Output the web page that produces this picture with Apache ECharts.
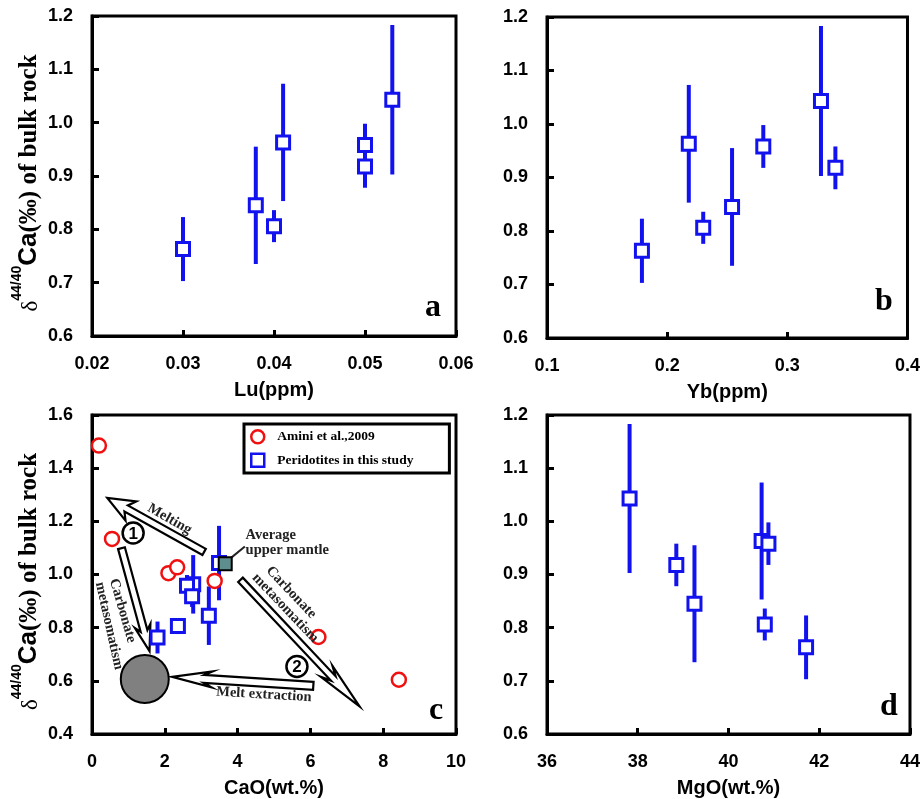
<!DOCTYPE html>
<html>
<head>
<meta charset="utf-8">
<script src="https://cdn.jsdelivr.net/npm/echarts@6/dist/echarts.min.js"></script>
<style>html,body{margin:0;padding:0;background:#fff}#c{width:923px;height:799px}</style>
</head>
<body>
<div id="c"></div>
<script>
// ---- data ----
const d44Ca    = [0.763, 0.845, 0.806, 0.963, 0.958, 0.918, 1.043];
const d44CaErr = [0.06, 0.11, 0.03, 0.11, 0.04, 0.04, 0.14];
const Lu  = [0.030, 0.038, 0.040, 0.041, 0.050, 0.050, 0.053];
const Yb  = [0.179, 0.254, 0.230, 0.218, 0.280, 0.340, 0.328];
const CaO = [1.80, 3.21, 2.36, 2.78, 2.61, 2.75, 3.49];
const MgO = [41.71, 39.25, 40.80, 40.73, 40.88, 38.85, 37.82];

const aminiCaO   = [0.19, 0.55, 2.10, 2.34, 3.37, 6.22, 8.43];
const aminiD44Ca = [1.485, 1.134, 1.005, 1.027, 0.976, 0.765, 0.604];

const avgMantleCaO = [3.66];
const avgMantleD44Ca = [1.040];

const meltResidueCaO = [1.45];
const meltResidueD44Ca = [0.607];

const leaderCaO = [3.76, 4.20];
const leaderD44Ca = [1.056, 1.105];

const arrowX1 = [3.08, 0.81, 4.08, 6.08];
const arrowY1 = [1.085, 1.099, 0.980, 0.581];
const arrowX2 = [0.42, 1.58, 7.35, 2.20];
const arrowY2 = [1.288, 0.712, 0.504, 0.615];

const annoText  = ['Melting', 'Average', 'upper mantle', 'Carbonate', 'metasomatism', 'Carbonate', 'metasomatism', 'Melt extraction'];
const annoX     = [2.13, 4.22, 4.22, 5.47, 5.31, 0.84, 0.47, 4.72];
const annoY     = [1.208, 1.149, 1.093, 0.933, 0.874, 0.864, 0.807, 0.548];
const annoAngle = [-29.5, 0, 0, -46.5, -46.5, -74, -77.5, -3.4];
const annoAlign = ['center', 'left', 'left', 'center', 'center', 'center', 'center', 'center'];

const stepLabels = ['1', '2'];
const stepX = [1.13, 5.63];
const stepY = [1.156, 0.654];

const panelLetters = ['a', 'b', 'c', 'd'];

// ---- styles ----
const BLUE = '#1212ee';
const arrowHeadLen = [27, 26, 48, 40];
const arrowHeadHalf = [11, 8, 8, 8];
const arrowShaftHalf = [3.5, 3.5, 3.2, 4];

const tickFont = {fontFamily: '"Liberation Sans", Arial, sans-serif', fontWeight: 'bold', fontSize: 18, color: '#000'};
const nameFont = {fontFamily: '"Liberation Sans", Arial, sans-serif', fontWeight: 'bold', fontSize: 20, color: '#000'};
const serif = '"Liberation Serif", "Times New Roman", serif';

const yName = '{d|δ}{s|44/40}{c|Ca}{t|(‰) of bulk rock}';
const yRich = {
  d: {fontFamily: serif, fontSize: 23, fontWeight: 'normal', lineHeight: 32, verticalAlign: 'bottom'},
  s: {fontFamily: '"Liberation Sans", Arial, sans-serif', fontSize: 14, fontWeight: 'bold', lineHeight: 32, verticalAlign: 'top'},
  c: {fontFamily: '"Liberation Sans", Arial, sans-serif', fontSize: 26, fontWeight: 'bold', lineHeight: 32, verticalAlign: 'bottom'},
  t: {fontFamily: serif, fontSize: 25, fontWeight: 'bold', lineHeight: 32, verticalAlign: 'bottom'}
};

const grids = [
  {left: 92, top: 16, width: 364, height: 320},
  {left: 547, top: 17, width: 364, height: 321},
  {left: 92, top: 415, width: 364, height: 320},
  {left: 547, top: 415, width: 365, height: 319}
].map(g => Object.assign({show: true, borderColor: '#000', borderWidth: 3, backgroundColor: '#fff'}, g));

function xAx(i, min, max, interval, name, dec) {
  return {
    type: 'value', gridIndex: i, min, max, interval,
    name, nameLocation: 'middle', nameGap: 44, nameTextStyle: nameFont,
    axisLine: {show: true, lineStyle: {color: '#000', width: 3}},
    axisTick: {show: true, inside: true, length: 6, lineStyle: {color: '#000', width: 3}},
    axisLabel: Object.assign({margin: 19, formatter: v => v.toFixed(dec)}, tickFont),
    splitLine: {show: false}
  };
}
function yAx(i, min, max, interval, showName) {
  return {
    type: 'value', gridIndex: i, min, max, interval,
    name: showName ? yName : '', nameLocation: 'middle', nameRotate: 90, nameGap: 50,
    nameTextStyle: {rich: yRich, color: '#000', padding: [0, 14, 0, 0]},
    axisLine: {show: true, lineStyle: {color: '#000', width: 3}},
    axisTick: {show: true, inside: true, length: 7, lineStyle: {color: '#000', width: 3}},
    axisLabel: Object.assign({margin: 19, formatter: v => v.toFixed(1)}, tickFont),
    splitLine: {show: false}
  };
}

function errSeries(xs, gi) {
  return {
    type: 'custom', xAxisIndex: gi, yAxisIndex: gi, z: 2, silent: true,
    data: xs.map((x, k) => [x, d44Ca[k], d44CaErr[k]]),
    encode: {x: 0, y: 1},
    renderItem: (params, api) => {
      const x = api.value(0), y = api.value(1), e = api.value(2);
      const p1 = api.coord([x, y - e]), p2 = api.coord([x, y + e]);
      return {type: 'line', shape: {x1: p1[0], y1: p1[1], x2: p2[0], y2: p2[1]},
        style: {stroke: BLUE, lineWidth: 4}};
    }
  };
}
function sqSeries(xs, gi, name) {
  return {
    type: 'scatter', name, xAxisIndex: gi, yAxisIndex: gi, z: 4,
    symbol: 'rect', symbolSize: 13,
    itemStyle: {color: '#fff', borderColor: BLUE, borderWidth: 3, opacity: 1},
    data: xs.map((x, k) => [x, d44Ca[k]])
  };
}

const arrowSeries = {
  type: 'custom', xAxisIndex: 2, yAxisIndex: 2, z: 3, silent: true,
  data: arrowX1.map((x, k) => [x, arrowY1[k], arrowX2[k], arrowY2[k], k]),
  encode: {x: [0, 2], y: [1, 3]},
  renderItem: (params, api) => {
    const k = api.value(4);
    const T = api.coord([api.value(0), api.value(1)]);
    const H = api.coord([api.value(2), api.value(3)]);
    const dx = H[0] - T[0], dy = H[1] - T[1];
    const L = Math.sqrt(dx * dx + dy * dy);
    const ux = dx / L, uy = dy / L, nx = -uy, ny = ux;
    const hl = arrowHeadLen[k], hw = arrowHeadHalf[k], sw = arrowShaftHalf[k];
    const B = [H[0] - ux * hl, H[1] - uy * hl];
    const N = [H[0] - ux * hl * 0.8, H[1] - uy * hl * 0.8];
    const pts = [
      [T[0] + nx * sw, T[1] + ny * sw],
      [N[0] + nx * sw, N[1] + ny * sw],
      [B[0] + nx * hw, B[1] + ny * hw],
      [H[0], H[1]],
      [B[0] - nx * hw, B[1] - ny * hw],
      [N[0] - nx * sw, N[1] - ny * sw],
      [T[0] - nx * sw, T[1] - ny * sw]
    ];
    return {type: 'polygon', shape: {points: pts}, style: {fill: '#fff', stroke: '#000', lineWidth: 2.2, lineJoin: 'miter'}};
  }
};

const annoSeries = {
  type: 'custom', xAxisIndex: 2, yAxisIndex: 2, z: 6, silent: true,
  data: annoX.map((x, k) => [x, annoY[k], k]),
  encode: {x: 0, y: 1},
  renderItem: (params, api) => {
    const k = api.value(2);
    const p = api.coord([api.value(0), api.value(1)]);
    return {type: 'text', x: p[0], y: p[1], rotation: annoAngle[k] * Math.PI / 180,
      style: {text: annoText[k], font: 'bold 14.5px ' + serif, fill: '#222',
        align: annoAlign[k], verticalAlign: 'middle'}};
  }
};

const stepSeries = {
  type: 'custom', xAxisIndex: 2, yAxisIndex: 2, z: 6, silent: true,
  data: stepX.map((x, k) => [x, stepY[k], k]),
  encode: {x: 0, y: 1},
  renderItem: (params, api) => {
    const k = api.value(2);
    const p = api.coord([api.value(0), api.value(1)]);
    return {type: 'group', children: [
      {type: 'circle', shape: {cx: p[0], cy: p[1], r: 10.5}, style: {fill: '#fff', stroke: '#000', lineWidth: 2.5}},
      {type: 'text', x: p[0], y: p[1] + 1, style: {text: stepLabels[k], font: 'bold 17px "Liberation Sans", Arial, sans-serif',
        fill: '#000', align: 'center', verticalAlign: 'middle'}}
    ]};
  }
};

const letterPos = [[433, 308], [884, 302], [436, 711], [889, 707]];

const option = {
  animation: false,
  backgroundColor: '#fff',
  grid: grids,
  xAxis: [
    xAx(0, 0.02, 0.06, 0.01, 'Lu(ppm)', 2),
    xAx(1, 0.1, 0.4, 0.1, 'Yb(ppm)', 1),
    xAx(2, 0, 10, 2, 'CaO(wt.%)', 0),
    xAx(3, 36, 44, 2, 'MgO(wt.%)', 0)
  ],
  yAxis: [
    yAx(0, 0.6, 1.2, 0.1, true),
    yAx(1, 0.6, 1.2, 0.1, false),
    yAx(2, 0.4, 1.6, 0.2, true),
    yAx(3, 0.6, 1.2, 0.1, false)
  ],
  legend: {
    data: [
      {name: 'Amini et al.,2009', icon: 'circle', itemStyle: {color: '#fff', borderColor: '#f01010', borderWidth: 2.5}},
      {name: 'Peridotites in this study', icon: 'rect', itemStyle: {color: '#fff', borderColor: BLUE, borderWidth: 2.5}}
    ],
    orient: 'vertical', left: 244, top: 424,
    itemWidth: 13, itemHeight: 13, itemGap: 8,
    padding: [5, 36, 5, 6],
    borderColor: '#000', borderWidth: 3, backgroundColor: '#fff',
    textStyle: {fontFamily: serif, fontWeight: 'bold', fontSize: 13.5, color: '#000', padding: [0, 0, 0, 8]},
    selectedMode: false, z: 10
  },
  graphic: panelLetters.map((t, k) => ({
    type: 'text', x: letterPos[k][0], y: letterPos[k][1], z: 100,
    style: {text: t, font: 'bold 32px ' + serif, fill: '#000', align: 'center', verticalAlign: 'middle'}
  })),
  series: [
    errSeries(Lu, 0), sqSeries(Lu, 0, 'Lu'),
    errSeries(Yb, 1), sqSeries(Yb, 1, 'Yb'),
    arrowSeries,
    {
      type: 'scatter', name: 'residue', xAxisIndex: 2, yAxisIndex: 2, z: 3, silent: true,
      symbol: 'circle', symbolSize: 48,
      itemStyle: {color: '#808080', borderColor: '#000', borderWidth: 2, opacity: 1},
      data: meltResidueCaO.map((x, k) => [x, meltResidueD44Ca[k]])
    },
    errSeries(CaO, 2), sqSeries(CaO, 2, 'Peridotites in this study'),
    {
      type: 'scatter', name: 'Amini et al.,2009', xAxisIndex: 2, yAxisIndex: 2, z: 5,
      symbol: 'circle', symbolSize: 14,
      itemStyle: {color: '#fff', borderColor: '#f01010', borderWidth: 2.5, opacity: 1},
      data: aminiCaO.map((x, k) => [x, aminiD44Ca[k]])
    },
    {
      type: 'line', name: 'leader', xAxisIndex: 2, yAxisIndex: 2, z: 5, silent: true,
      symbol: 'none', lineStyle: {color: '#222', width: 2},
      data: leaderCaO.map((x, k) => [x, leaderD44Ca[k]])
    },
    {
      type: 'scatter', name: 'Average upper mantle', xAxisIndex: 2, yAxisIndex: 2, z: 6, silent: true,
      symbol: 'rect', symbolSize: 13,
      itemStyle: {color: '#5e8e8e', borderColor: '#000', borderWidth: 2, opacity: 1},
      data: avgMantleCaO.map((x, k) => [x, avgMantleD44Ca[k]])
    },
    annoSeries, stepSeries,
    errSeries(MgO, 3), sqSeries(MgO, 3, 'MgO')
  ]
};

const chart = echarts.init(document.getElementById('c'), null, {renderer: 'canvas'});
chart.setOption(option);
</script>
</body>
</html>
